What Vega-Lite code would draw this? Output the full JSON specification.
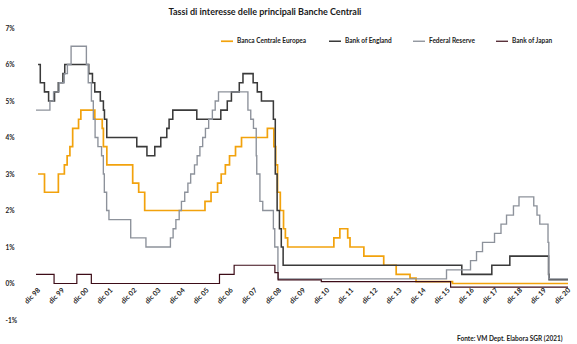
{
  "$schema": "https://vega.github.io/schema/vega-lite/v6.json",
  "width": 532,
  "height": 292,
  "autosize": {"type": "none"},
  "padding": {"left": 36, "top": 28, "right": 9, "bottom": 24},
  "background": "white",
  "config": {
    "view": {"stroke": null},
    "font": "Lato"
  },
  "title": {
    "text": "Tassi di interesse delle principali Banche Centrali",
    "font": "Lato",
    "fontSize": 9,
    "fontWeight": "bold",
    "color": "#1a1a1a",
    "anchor": "middle",
    "dx": -37,
    "offset": 8
  },
  "data": {
    "values": [
      {"data": "1999-01-01", "banca": "Banca Centrale Europea", "tasso": 3},
      {"data": "1999-04-09", "banca": "Banca Centrale Europea", "tasso": 2.5},
      {"data": "1999-11-05", "banca": "Banca Centrale Europea", "tasso": 3},
      {"data": "2000-02-04", "banca": "Banca Centrale Europea", "tasso": 3.25},
      {"data": "2000-03-17", "banca": "Banca Centrale Europea", "tasso": 3.5},
      {"data": "2000-04-28", "banca": "Banca Centrale Europea", "tasso": 3.75},
      {"data": "2000-06-09", "banca": "Banca Centrale Europea", "tasso": 4.25},
      {"data": "2000-09-06", "banca": "Banca Centrale Europea", "tasso": 4.5},
      {"data": "2000-10-11", "banca": "Banca Centrale Europea", "tasso": 4.75},
      {"data": "2001-05-11", "banca": "Banca Centrale Europea", "tasso": 4.5},
      {"data": "2001-08-31", "banca": "Banca Centrale Europea", "tasso": 4.25},
      {"data": "2001-09-18", "banca": "Banca Centrale Europea", "tasso": 3.75},
      {"data": "2001-11-09", "banca": "Banca Centrale Europea", "tasso": 3.25},
      {"data": "2002-12-06", "banca": "Banca Centrale Europea", "tasso": 2.75},
      {"data": "2003-03-07", "banca": "Banca Centrale Europea", "tasso": 2.5},
      {"data": "2003-06-06", "banca": "Banca Centrale Europea", "tasso": 2},
      {"data": "2005-12-06", "banca": "Banca Centrale Europea", "tasso": 2.25},
      {"data": "2006-03-08", "banca": "Banca Centrale Europea", "tasso": 2.5},
      {"data": "2006-06-15", "banca": "Banca Centrale Europea", "tasso": 2.75},
      {"data": "2006-08-09", "banca": "Banca Centrale Europea", "tasso": 3},
      {"data": "2006-10-11", "banca": "Banca Centrale Europea", "tasso": 3.25},
      {"data": "2006-12-13", "banca": "Banca Centrale Europea", "tasso": 3.5},
      {"data": "2007-03-14", "banca": "Banca Centrale Europea", "tasso": 3.75},
      {"data": "2007-06-13", "banca": "Banca Centrale Europea", "tasso": 4},
      {"data": "2008-07-09", "banca": "Banca Centrale Europea", "tasso": 4.25},
      {"data": "2008-10-15", "banca": "Banca Centrale Europea", "tasso": 3.75},
      {"data": "2008-11-12", "banca": "Banca Centrale Europea", "tasso": 3.25},
      {"data": "2008-12-10", "banca": "Banca Centrale Europea", "tasso": 2.5},
      {"data": "2009-01-21", "banca": "Banca Centrale Europea", "tasso": 2},
      {"data": "2009-03-11", "banca": "Banca Centrale Europea", "tasso": 1.5},
      {"data": "2009-04-08", "banca": "Banca Centrale Europea", "tasso": 1.25},
      {"data": "2009-05-13", "banca": "Banca Centrale Europea", "tasso": 1},
      {"data": "2011-04-13", "banca": "Banca Centrale Europea", "tasso": 1.25},
      {"data": "2011-07-13", "banca": "Banca Centrale Europea", "tasso": 1.5},
      {"data": "2011-11-09", "banca": "Banca Centrale Europea", "tasso": 1.25},
      {"data": "2011-12-14", "banca": "Banca Centrale Europea", "tasso": 1},
      {"data": "2012-07-11", "banca": "Banca Centrale Europea", "tasso": 0.75},
      {"data": "2013-05-08", "banca": "Banca Centrale Europea", "tasso": 0.5},
      {"data": "2013-11-13", "banca": "Banca Centrale Europea", "tasso": 0.25},
      {"data": "2014-06-11", "banca": "Banca Centrale Europea", "tasso": 0.15},
      {"data": "2014-09-10", "banca": "Banca Centrale Europea", "tasso": 0.05},
      {"data": "2016-03-16", "banca": "Banca Centrale Europea", "tasso": 0},
      {"data": "2020-12-31", "banca": "Banca Centrale Europea", "tasso": 0},

      {"data": "1999-01-01", "banca": "Bank of England", "tasso": 6},
      {"data": "1999-02-04", "banca": "Bank of England", "tasso": 5.5},
      {"data": "1999-04-08", "banca": "Bank of England", "tasso": 5.25},
      {"data": "1999-06-10", "banca": "Bank of England", "tasso": 5},
      {"data": "1999-09-08", "banca": "Bank of England", "tasso": 5.25},
      {"data": "1999-11-04", "banca": "Bank of England", "tasso": 5.5},
      {"data": "2000-01-13", "banca": "Bank of England", "tasso": 5.75},
      {"data": "2000-02-10", "banca": "Bank of England", "tasso": 6},
      {"data": "2001-02-08", "banca": "Bank of England", "tasso": 5.75},
      {"data": "2001-04-05", "banca": "Bank of England", "tasso": 5.5},
      {"data": "2001-05-10", "banca": "Bank of England", "tasso": 5.25},
      {"data": "2001-08-02", "banca": "Bank of England", "tasso": 5},
      {"data": "2001-09-18", "banca": "Bank of England", "tasso": 4.75},
      {"data": "2001-10-04", "banca": "Bank of England", "tasso": 4.5},
      {"data": "2001-11-08", "banca": "Bank of England", "tasso": 4},
      {"data": "2003-02-06", "banca": "Bank of England", "tasso": 3.75},
      {"data": "2003-07-10", "banca": "Bank of England", "tasso": 3.5},
      {"data": "2003-11-06", "banca": "Bank of England", "tasso": 3.75},
      {"data": "2004-02-05", "banca": "Bank of England", "tasso": 4},
      {"data": "2004-05-06", "banca": "Bank of England", "tasso": 4.25},
      {"data": "2004-06-10", "banca": "Bank of England", "tasso": 4.5},
      {"data": "2004-08-05", "banca": "Bank of England", "tasso": 4.75},
      {"data": "2005-08-04", "banca": "Bank of England", "tasso": 4.5},
      {"data": "2006-08-03", "banca": "Bank of England", "tasso": 4.75},
      {"data": "2006-11-09", "banca": "Bank of England", "tasso": 5},
      {"data": "2007-01-11", "banca": "Bank of England", "tasso": 5.25},
      {"data": "2007-05-10", "banca": "Bank of England", "tasso": 5.5},
      {"data": "2007-07-05", "banca": "Bank of England", "tasso": 5.75},
      {"data": "2007-12-06", "banca": "Bank of England", "tasso": 5.5},
      {"data": "2008-02-07", "banca": "Bank of England", "tasso": 5.25},
      {"data": "2008-04-10", "banca": "Bank of England", "tasso": 5},
      {"data": "2008-10-08", "banca": "Bank of England", "tasso": 4.5},
      {"data": "2008-11-06", "banca": "Bank of England", "tasso": 3},
      {"data": "2008-12-04", "banca": "Bank of England", "tasso": 2},
      {"data": "2009-01-08", "banca": "Bank of England", "tasso": 1.5},
      {"data": "2009-02-05", "banca": "Bank of England", "tasso": 1},
      {"data": "2009-03-05", "banca": "Bank of England", "tasso": 0.5},
      {"data": "2016-08-04", "banca": "Bank of England", "tasso": 0.25},
      {"data": "2017-11-02", "banca": "Bank of England", "tasso": 0.5},
      {"data": "2018-08-02", "banca": "Bank of England", "tasso": 0.75},
      {"data": "2020-03-11", "banca": "Bank of England", "tasso": 0.25},
      {"data": "2020-03-19", "banca": "Bank of England", "tasso": 0.1},
      {"data": "2020-12-31", "banca": "Bank of England", "tasso": 0.1},

      {"data": "1998-12-01", "banca": "Federal Reserve", "tasso": 4.75},
      {"data": "1999-06-30", "banca": "Federal Reserve", "tasso": 5},
      {"data": "1999-08-24", "banca": "Federal Reserve", "tasso": 5.25},
      {"data": "1999-11-16", "banca": "Federal Reserve", "tasso": 5.5},
      {"data": "2000-02-02", "banca": "Federal Reserve", "tasso": 5.75},
      {"data": "2000-03-21", "banca": "Federal Reserve", "tasso": 6},
      {"data": "2000-05-16", "banca": "Federal Reserve", "tasso": 6.5},
      {"data": "2001-01-03", "banca": "Federal Reserve", "tasso": 6},
      {"data": "2001-01-31", "banca": "Federal Reserve", "tasso": 5.5},
      {"data": "2001-03-20", "banca": "Federal Reserve", "tasso": 5},
      {"data": "2001-04-18", "banca": "Federal Reserve", "tasso": 4.5},
      {"data": "2001-05-15", "banca": "Federal Reserve", "tasso": 4},
      {"data": "2001-06-27", "banca": "Federal Reserve", "tasso": 3.75},
      {"data": "2001-08-21", "banca": "Federal Reserve", "tasso": 3.5},
      {"data": "2001-09-17", "banca": "Federal Reserve", "tasso": 3},
      {"data": "2001-10-02", "banca": "Federal Reserve", "tasso": 2.5},
      {"data": "2001-11-06", "banca": "Federal Reserve", "tasso": 2},
      {"data": "2001-12-11", "banca": "Federal Reserve", "tasso": 1.75},
      {"data": "2002-11-06", "banca": "Federal Reserve", "tasso": 1.25},
      {"data": "2003-06-25", "banca": "Federal Reserve", "tasso": 1},
      {"data": "2004-06-30", "banca": "Federal Reserve", "tasso": 1.25},
      {"data": "2004-08-10", "banca": "Federal Reserve", "tasso": 1.5},
      {"data": "2004-09-21", "banca": "Federal Reserve", "tasso": 1.75},
      {"data": "2004-11-10", "banca": "Federal Reserve", "tasso": 2},
      {"data": "2004-12-14", "banca": "Federal Reserve", "tasso": 2.25},
      {"data": "2005-02-02", "banca": "Federal Reserve", "tasso": 2.5},
      {"data": "2005-03-22", "banca": "Federal Reserve", "tasso": 2.75},
      {"data": "2005-05-03", "banca": "Federal Reserve", "tasso": 3},
      {"data": "2005-06-30", "banca": "Federal Reserve", "tasso": 3.25},
      {"data": "2005-08-09", "banca": "Federal Reserve", "tasso": 3.5},
      {"data": "2005-09-20", "banca": "Federal Reserve", "tasso": 3.75},
      {"data": "2005-11-01", "banca": "Federal Reserve", "tasso": 4},
      {"data": "2005-12-13", "banca": "Federal Reserve", "tasso": 4.25},
      {"data": "2006-01-31", "banca": "Federal Reserve", "tasso": 4.5},
      {"data": "2006-03-28", "banca": "Federal Reserve", "tasso": 4.75},
      {"data": "2006-05-10", "banca": "Federal Reserve", "tasso": 5},
      {"data": "2006-06-29", "banca": "Federal Reserve", "tasso": 5.25},
      {"data": "2007-09-18", "banca": "Federal Reserve", "tasso": 4.75},
      {"data": "2007-10-31", "banca": "Federal Reserve", "tasso": 4.5},
      {"data": "2007-12-11", "banca": "Federal Reserve", "tasso": 4.25},
      {"data": "2008-01-22", "banca": "Federal Reserve", "tasso": 3.5},
      {"data": "2008-01-30", "banca": "Federal Reserve", "tasso": 3},
      {"data": "2008-03-18", "banca": "Federal Reserve", "tasso": 2.25},
      {"data": "2008-04-30", "banca": "Federal Reserve", "tasso": 2},
      {"data": "2008-10-08", "banca": "Federal Reserve", "tasso": 1.5},
      {"data": "2008-10-29", "banca": "Federal Reserve", "tasso": 1},
      {"data": "2008-12-16", "banca": "Federal Reserve", "tasso": 0.125},
      {"data": "2015-12-16", "banca": "Federal Reserve", "tasso": 0.375},
      {"data": "2016-12-14", "banca": "Federal Reserve", "tasso": 0.625},
      {"data": "2017-03-15", "banca": "Federal Reserve", "tasso": 0.875},
      {"data": "2017-06-14", "banca": "Federal Reserve", "tasso": 1.125},
      {"data": "2017-12-13", "banca": "Federal Reserve", "tasso": 1.375},
      {"data": "2018-03-21", "banca": "Federal Reserve", "tasso": 1.625},
      {"data": "2018-06-13", "banca": "Federal Reserve", "tasso": 1.875},
      {"data": "2018-09-26", "banca": "Federal Reserve", "tasso": 2.125},
      {"data": "2018-12-19", "banca": "Federal Reserve", "tasso": 2.375},
      {"data": "2019-07-31", "banca": "Federal Reserve", "tasso": 2.125},
      {"data": "2019-09-18", "banca": "Federal Reserve", "tasso": 1.875},
      {"data": "2019-10-30", "banca": "Federal Reserve", "tasso": 1.625},
      {"data": "2020-03-03", "banca": "Federal Reserve", "tasso": 1.125},
      {"data": "2020-03-15", "banca": "Federal Reserve", "tasso": 0.125},
      {"data": "2020-12-31", "banca": "Federal Reserve", "tasso": 0.125},

      {"data": "1998-12-01", "banca": "Bank of Japan", "tasso": 0.25},
      {"data": "1999-09-01", "banca": "Bank of Japan", "tasso": 0},
      {"data": "2000-08-11", "banca": "Bank of Japan", "tasso": 0.25},
      {"data": "2001-03-19", "banca": "Bank of Japan", "tasso": 0},
      {"data": "2006-07-14", "banca": "Bank of Japan", "tasso": 0.25},
      {"data": "2007-02-21", "banca": "Bank of Japan", "tasso": 0.5},
      {"data": "2008-10-31", "banca": "Bank of Japan", "tasso": 0.3},
      {"data": "2008-12-19", "banca": "Bank of Japan", "tasso": 0.1},
      {"data": "2010-10-05", "banca": "Bank of Japan", "tasso": 0.05},
      {"data": "2016-02-16", "banca": "Bank of Japan", "tasso": -0.1},
      {"data": "2020-12-31", "banca": "Bank of Japan", "tasso": -0.1}
    ]
  },
  "mark": {"type": "line", "interpolate": "step-after", "strokeJoin": "miter"},
  "encoding": {
    "x": {
      "field": "data",
      "type": "temporal",
      "scale": {
        "type": "utc",
        "domain": [
          {"year": 1998, "month": 12, "date": 1, "utc": true},
          {"year": 2020, "month": 12, "date": 31, "utc": true}
        ]
      },
      "axis": {
        "title": "Fonte: VM Dept. Elabora SGR (2021)",
        "titleFont": "Lato",
        "titleFontSize": 6.5,
        "titleFontWeight": "bold",
        "titleColor": "#222222",
        "titleAnchor": "end",
        "titleAlign": "right",
        "titleBaseline": "alphabetic",
        "titleX": 526,
        "titleY": 57,
        "offset": -37,
        "domain": false,
        "ticks": false,
        "grid": false,
        "labelAngle": -45,
        "labelFont": "Lato",
        "labelFontSize": 7,
        "labelFontWeight": "bold",
        "labelColor": "#222222",
        "labelPadding": 3,
        "labelOverlap": false,
        "labelExpr": "'dic ' + utcFormat(datum.value, '%y')",
        "values": [
          {"year": 1998, "month": 12, "date": 1, "utc": true},
          {"year": 1999, "month": 12, "date": 1, "utc": true},
          {"year": 2000, "month": 12, "date": 1, "utc": true},
          {"year": 2001, "month": 12, "date": 1, "utc": true},
          {"year": 2002, "month": 12, "date": 1, "utc": true},
          {"year": 2003, "month": 12, "date": 1, "utc": true},
          {"year": 2004, "month": 12, "date": 1, "utc": true},
          {"year": 2005, "month": 12, "date": 1, "utc": true},
          {"year": 2006, "month": 12, "date": 1, "utc": true},
          {"year": 2007, "month": 12, "date": 1, "utc": true},
          {"year": 2008, "month": 12, "date": 1, "utc": true},
          {"year": 2009, "month": 12, "date": 1, "utc": true},
          {"year": 2010, "month": 12, "date": 1, "utc": true},
          {"year": 2011, "month": 12, "date": 1, "utc": true},
          {"year": 2012, "month": 12, "date": 1, "utc": true},
          {"year": 2013, "month": 12, "date": 1, "utc": true},
          {"year": 2014, "month": 12, "date": 1, "utc": true},
          {"year": 2015, "month": 12, "date": 1, "utc": true},
          {"year": 2016, "month": 12, "date": 1, "utc": true},
          {"year": 2017, "month": 12, "date": 1, "utc": true},
          {"year": 2018, "month": 12, "date": 1, "utc": true},
          {"year": 2019, "month": 12, "date": 1, "utc": true},
          {"year": 2020, "month": 12, "date": 1, "utc": true}
        ]
      }
    },
    "y": {
      "field": "tasso",
      "type": "quantitative",
      "scale": {"domain": [-1, 7], "nice": false, "zero": false},
      "axis": {
        "title": null,
        "domain": false,
        "ticks": false,
        "grid": false,
        "values": [-1, 0, 1, 2, 3, 4, 5, 6, 7],
        "labelExpr": "datum.value + '%'",
        "labelAlign": "left",
        "labelPadding": 31,
        "labelFont": "Lato",
        "labelFontSize": 6.5,
        "labelFontWeight": "bold",
        "labelColor": "#222222"
      }
    },
    "color": {
      "field": "banca",
      "type": "nominal",
      "scale": {
        "domain": ["Banca Centrale Europea", "Bank of England", "Federal Reserve", "Bank of Japan"],
        "range": ["#f2a20c", "#3a3a3a", "#8d929b", "#3d0d18"]
      },
      "legend": {
        "title": null,
        "orient": "none",
        "direction": "horizontal",
        "legendX": 184,
        "legendY": 6,
        "symbolType": "stroke",
        "symbolSize": 144,
        "symbolStrokeWidth": 1.5,
        "labelFont": "Lato",
        "labelFontSize": 6.5,
        "labelFontWeight": "bold",
        "labelColor": "#222222",
        "labelOffset": 3,
        "columnPadding": 18
      }
    },
    "strokeWidth": {
      "field": "banca",
      "type": "nominal",
      "scale": {
        "domain": ["Banca Centrale Europea", "Bank of England", "Federal Reserve", "Bank of Japan"],
        "range": [1.7, 1.2, 1.1, 2.2]
      },
      "legend": null
    }
  }
}
